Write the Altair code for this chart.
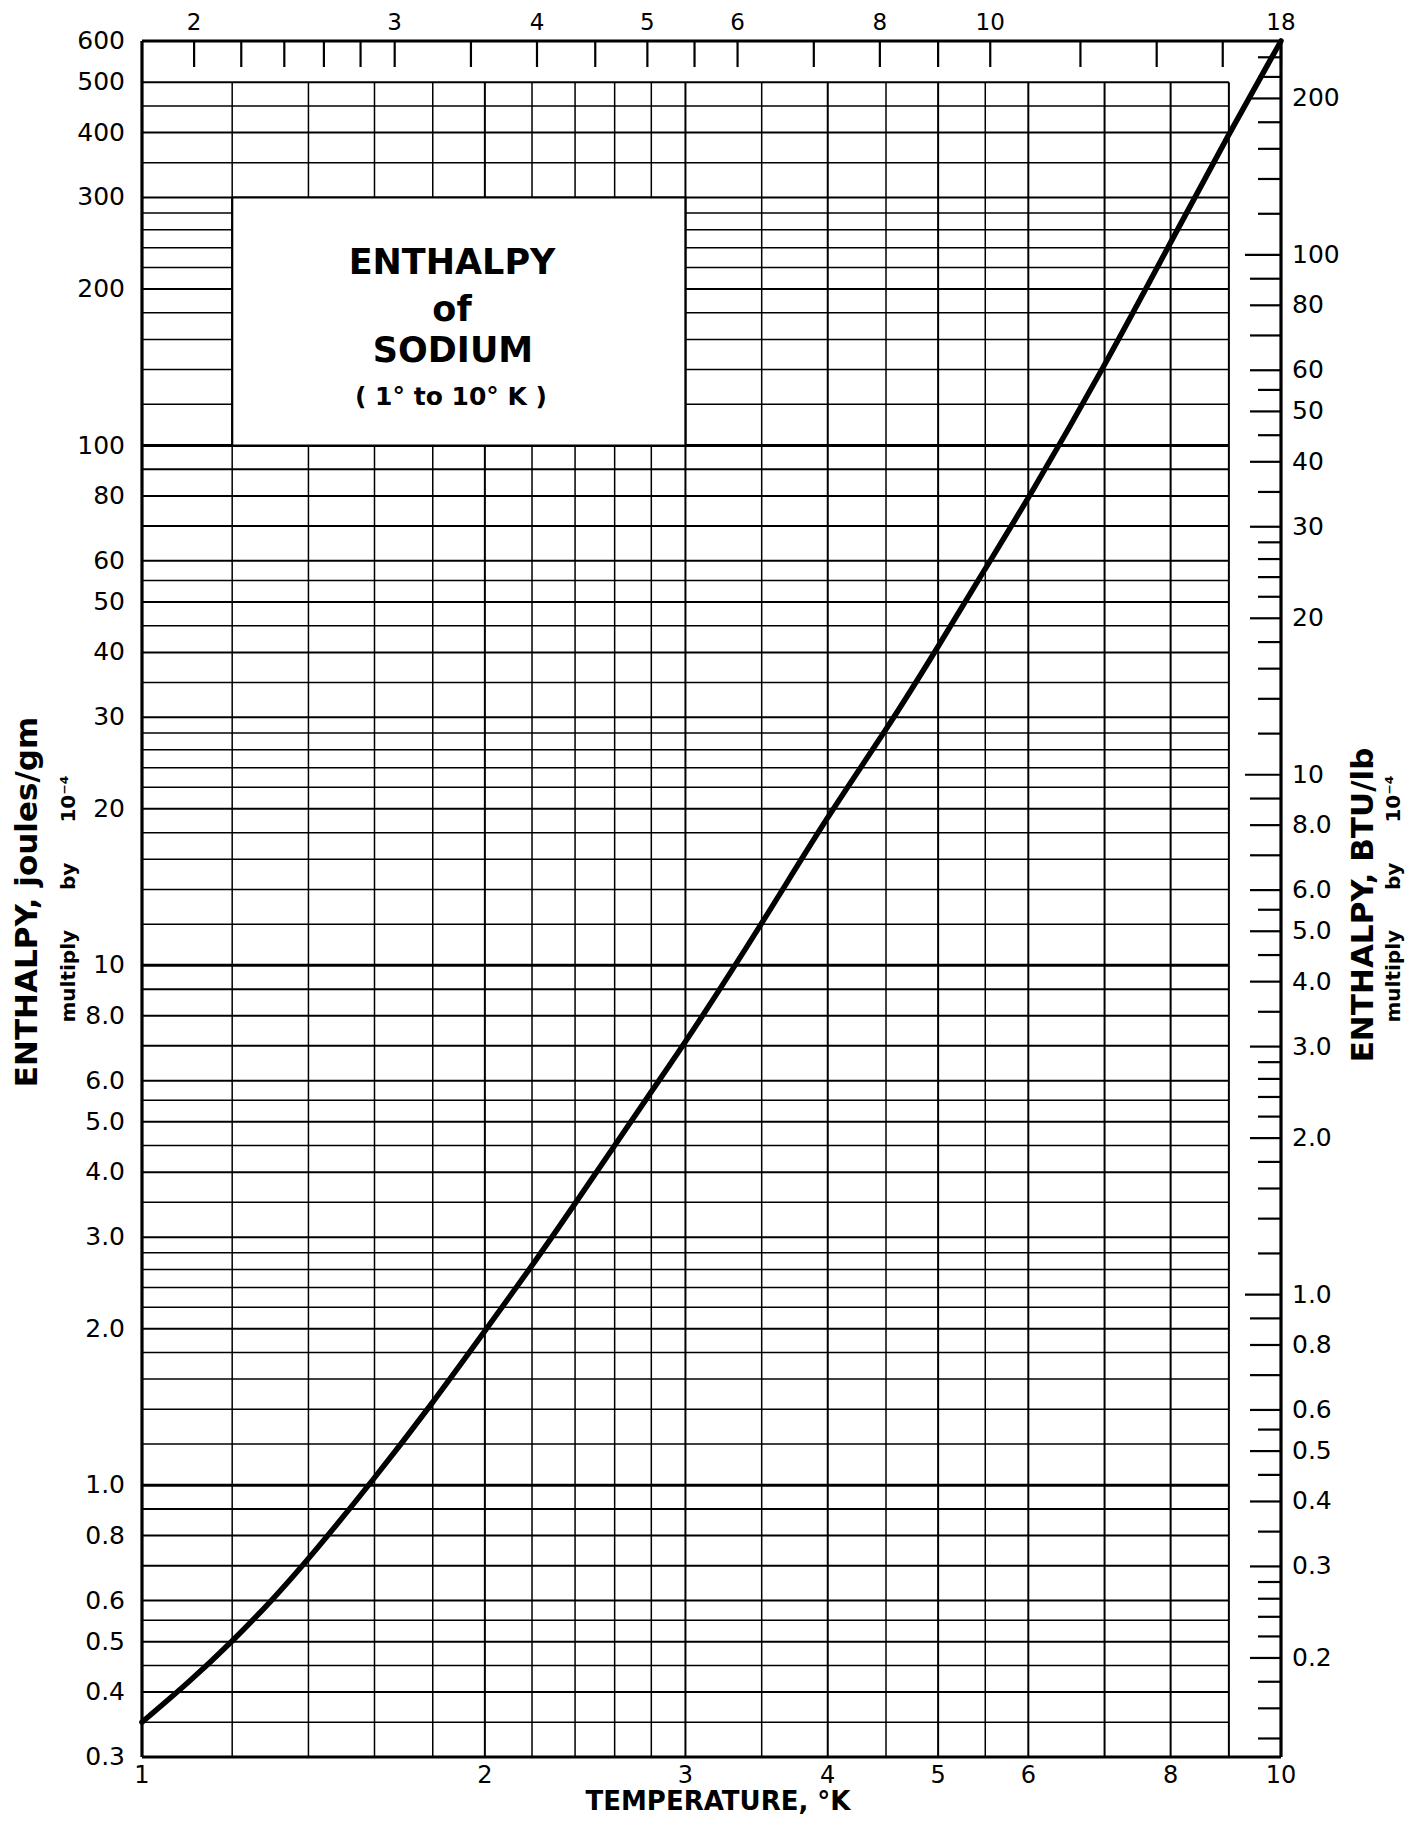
import altair as alt
import pandas as pd

# ---- data ----
# Enthalpy of sodium: temperature (deg K) vs enthalpy (joules/gm, x 10^-4)
temp_k = [1.0, 1.1, 1.2, 1.3, 1.4, 1.6, 1.8, 2.0, 2.2, 2.4, 2.6, 2.8, 3.0,
          3.5, 4.0, 4.5, 5.0, 5.5, 6.0, 7.0, 8.0, 9.0, 10.0]
enthalpy_j = [0.35, 0.418, 0.50, 0.60, 0.72, 1.03, 1.44, 1.98, 2.64, 3.48, 4.5, 5.72, 7.1,
              12.0, 19.4, 28.3, 41.0, 58.0, 79.0, 142.0, 246.0, 398.0, 600.0]

# log-paper rulings inside one decade
grid_mantissas = [1, 1.2, 1.4, 1.6, 1.8, 2, 2.2, 2.4, 2.6, 2.8, 3, 3.5, 4, 4.5, 5, 5.5, 6, 7, 8, 9]
j_decades = [0.1, 1, 10, 100]
btu_decades = [0.1, 1, 10, 100]

left_labels = [0.3, 0.4, 0.5, 0.6, 0.8, 1, 2, 3, 4, 5, 6, 8, 10, 20, 30, 40, 50, 60, 80,
               100, 200, 300, 400, 500, 600]
bottom_labels = [1, 2, 3, 4, 5, 6, 8, 10]
rankine_ticks = [2, 2.2, 2.4, 2.6, 2.8, 3, 3.5, 4, 4.5, 5, 5.5, 6, 7, 8, 9, 10, 12, 14, 16, 18]
rankine_labels = [2, 3, 4, 5, 6, 8, 10, 18]
btu_labels = [0.2, 0.3, 0.4, 0.5, 0.6, 0.8, 1, 2, 3, 4, 5, 6, 8, 10, 20, 30, 40, 50, 60, 80,
              100, 200]

J_PER_BTU = 2.326   # (joules/gm) per (BTU/lb)
R_PER_K = 1.8

# ---- layout / style ----
W, H = 1139, 1716
FONT = "DejaVu Sans"
INK = "#000000"
LABEL_EXPR = "datum.v < 10 ? format(datum.v, '.1f') : format(datum.v, 'd')"

xs = alt.Scale(type="log", domain=[1, 10], nice=False)
ys = alt.Scale(type="log", domain=[0.3, 600], nice=False)


def weight(m):
    if m == 1:
        return 3.0
    if float(m).is_integer():
        return 2.0
    return 1.5


hgrid = pd.DataFrame(
    [{"v": round(m * d, 6), "w": weight(m)} for d in j_decades for m in grid_mantissas
     if 0.3 < round(m * d, 6) <= 500]
)
vgrid = pd.DataFrame([{"v": m, "w": weight(m)} for m in grid_mantissas if 1 < m <= 9])

btu_rows = []
for d in btu_decades:
    for m in grid_mantissas:
        b = round(m * d, 6)
        if 0.13 <= b <= 258:
            cls = "decade" if m == 1 else ("major" if float(m).is_integer() else "minor")
            btu_rows.append({"b": b, "cls": cls})
btu_ticks = pd.DataFrame(btu_rows)

one = pd.DataFrame({"n": [0]})
curve = pd.DataFrame({"K": temp_k, "J": enthalpy_j})

# ---- layers ----
h_rules = alt.Chart(hgrid).mark_rule(color=INK).encode(
    y=alt.Y("v:Q", scale=ys, axis=None),
    x=alt.XDatum(1, scale=xs, axis=None),
    x2=alt.X2Datum(9),
    strokeWidth=alt.StrokeWidth("w:Q", scale=None),
)

v_rules = alt.Chart(vgrid).mark_rule(color=INK).encode(
    x=alt.X("v:Q", scale=xs, axis=None),
    y=alt.YDatum(0.3, scale=ys, axis=None),
    y2=alt.Y2Datum(500),
    strokeWidth=alt.StrokeWidth("w:Q", scale=None),
)

box = alt.Chart(one).mark_rect(fill="white", stroke=INK, strokeWidth=2.2).encode(
    x=alt.XDatum(1.2, scale=xs, axis=None),
    x2=alt.X2Datum(3.0),
    y=alt.YDatum(100, scale=ys, axis=None),
    y2=alt.Y2Datum(300),
)


def frame_rule(x, x2, y, y2):
    return alt.Chart(one).mark_rule(color=INK, strokeWidth=3.2).encode(
        x=alt.XDatum(x, scale=xs, axis=None),
        x2=alt.X2Datum(x2),
        y=alt.YDatum(y, scale=ys, axis=None),
        y2=alt.Y2Datum(y2),
    )


frame = [
    frame_rule(1, 1, 0.3, 600),
    frame_rule(10, 10, 0.3, 600),
    frame_rule(1, 10, 600, 600),
    frame_rule(1, 10, 0.3, 0.3),
]

top_ticks = alt.Chart(pd.DataFrame({"r": rankine_ticks})).transform_calculate(
    k=f"datum.r / {R_PER_K}"
).mark_rule(color=INK, strokeWidth=2.2).encode(
    x=alt.X("k:Q", scale=xs, axis=None),
    y=alt.value(0),
    y2=alt.value(26),
)

top_text = alt.Chart(pd.DataFrame({"r": rankine_labels})).transform_calculate(
    k=f"datum.r / {R_PER_K}"
).mark_text(font=FONT, fontSize=23, color=INK, baseline="middle", align="center").encode(
    x=alt.X("k:Q", scale=xs, axis=None),
    y=alt.value(-18),
    text=alt.Text("r:Q", format="d"),
)


def right_ticks(cls, length):
    return alt.Chart(btu_ticks).transform_filter(
        alt.datum.cls == cls
    ).transform_calculate(
        j=f"datum.b * {J_PER_BTU}"
    ).mark_rule(color=INK, strokeWidth=2.2).encode(
        y=alt.Y("j:Q", scale=ys, axis=None),
        x=alt.value(W - length),
        x2=alt.value(W),
    )


r_ticks = [right_ticks("decade", 36), right_ticks("major", 31), right_ticks("minor", 23)]

right_text = alt.Chart(pd.DataFrame({"v": btu_labels})).transform_calculate(
    j=f"datum.v * {J_PER_BTU}",
    lab=LABEL_EXPR,
).mark_text(font=FONT, fontSize=25, color=INK, baseline="middle", align="left").encode(
    y=alt.Y("j:Q", scale=ys, axis=None),
    x=alt.value(W + 11),
    text="lab:N",
)

left_text = alt.Chart(pd.DataFrame({"v": left_labels})).transform_calculate(
    lab=LABEL_EXPR,
).mark_text(font=FONT, fontSize=25, color=INK, baseline="middle", align="right").encode(
    y=alt.Y("v:Q", scale=ys, axis=None),
    x=alt.value(-17),
    text="lab:N",
)

bottom_text = alt.Chart(pd.DataFrame({"v": bottom_labels})).mark_text(
    font=FONT, fontSize=24, color=INK, baseline="middle", align="center"
).encode(
    x=alt.X("v:Q", scale=xs, axis=None),
    y=alt.value(H + 19),
    text=alt.Text("v:Q", format="d"),
)

line = alt.Chart(curve).mark_line(
    color=INK, strokeWidth=5.5, interpolate="basis", strokeCap="round"
).encode(
    x=alt.X("K:Q", scale=xs, axis=None),
    y=alt.Y("J:Q", scale=ys, axis=None),
)


def label(text, x, y, size, weight="bold", angle=0):
    return alt.Chart(one).mark_text(
        text=text, font=FONT, fontSize=size, fontWeight=weight, color=INK,
        align="center", baseline="middle", angle=angle,
    ).encode(x=alt.value(x), y=alt.value(y))


mult = "multiply\u2003\u2003by\u2003\u200310\u207b\u2074"

texts = [
    label("ENTHALPY", 310, 222, 35),
    label("of", 310, 269, 35),
    label("SODIUM", 311, 310, 35),
    label("( 1° to 10° K )", 309, 356, 25),
    label("ENTHALPY, joules/gm", -114, 861, 31, angle=270),
    label(mult, -73, 858, 20, angle=270),
    label("ENTHALPY, BTU/lb", 1222, 864, 31, angle=270),
    label(mult, 1252, 858, 20, angle=270),
    label("TEMPERATURE, °K", 576, 1761, 26),
]

chart = alt.layer(
    h_rules, v_rules, box, *frame, top_ticks, *r_ticks, line,
    top_text, right_text, left_text, bottom_text, *texts
).properties(
    width=W,
    height=H,
    autosize=alt.AutoSizeParams(type="none"),
    padding={"left": 134, "top": 33, "right": 137, "bottom": 61},
    background="white",
).configure_view(strokeWidth=0)

chart.save("out.html", embed_options={"renderer": "svg", "actions": False})
